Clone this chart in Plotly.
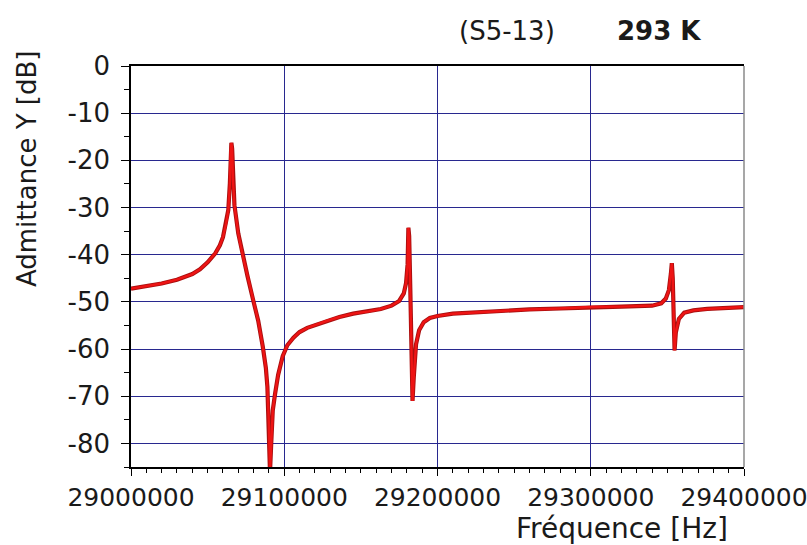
import plotly.graph_objects as go

freq_hz = [
    29000000, 29010000, 29020000, 29030000, 29040000, 29045000, 29050000, 29055000,
    29058000, 29060000, 29062000, 29063500, 29064500, 29065000, 29065500, 29066000,
    29066500, 29067500, 29070000, 29073000, 29076000, 29080000, 29083000, 29086000,
    29088000, 29089000, 29090000, 29090700, 29091500, 29092500, 29094000, 29096000,
    29099000, 29102000, 29106000, 29110000, 29115000, 29120000, 29128000, 29136000,
    29145000, 29155000, 29163000, 29170000, 29175000, 29178000, 29179500, 29180500,
    29181000, 29181500, 29182300, 29183000, 29183700, 29184500, 29186000, 29188000,
    29191000, 29195000, 29200000, 29210000, 29220000, 29240000, 29260000, 29280000,
    29300000, 29320000, 29340000, 29346000, 29349000, 29351000, 29352300, 29352900,
    29353500, 29354000, 29354700, 29355500, 29357500, 29361000, 29367000, 29376000,
    29390000, 29400000,
]
admittance_db = [
    -47.2, -46.7, -46.1, -45.3, -44.1, -43.1, -41.6, -39.7,
    -38.0, -36.3, -33.5, -30.5, -25.0, -18.0, -16.3, -17.5,
    -24.0, -29.5, -35.5, -40.3, -44.5, -50.0, -54.0, -59.5,
    -64.0, -68.0, -76.0, -86.0, -80.0, -73.0, -69.5, -65.5,
    -61.5, -59.2, -57.6, -56.4, -55.5, -54.9, -54.0, -53.2,
    -52.5, -52.0, -51.5, -50.8, -49.8, -48.2, -46.0, -42.0,
    -34.3, -36.0, -48.0, -60.0, -71.0, -66.0, -59.0, -56.0,
    -54.3, -53.4, -53.0, -52.5, -52.3, -51.9, -51.6, -51.4,
    -51.1, -51.0, -50.8, -50.3, -49.3, -47.5, -44.0, -41.8,
    -45.0, -52.0, -60.3, -56.5, -53.6, -52.3, -51.8, -51.5,
    -51.3, -51.1,
]

x_ticks = [29000000, 29100000, 29200000, 29300000, 29400000]
x_tick_labels = ["29000000", "29100000", "29200000", "29300000", "29400000"]
y_ticks = [0, -10, -20, -30, -40, -50, -60, -70, -80]
y_tick_labels = ["0", "-10", "-20", "-30", "-40", "-50", "-60", "-70", "-80"]

FONT = "DejaVu Sans"
GRID = "#28288f"

fig = go.Figure()
fig.add_trace(go.Scatter(x=freq_hz, y=admittance_db, mode="lines",
                         line=dict(color="#a80f0f", width=4.2), hoverinfo="skip",
                         showlegend=False))
fig.add_trace(go.Scatter(x=freq_hz, y=admittance_db, mode="lines",
                         line=dict(color="#ee1414", width=2.4),
                         showlegend=False))

fig.update_layout(
    width=807, height=545,
    margin=dict(l=131, r=63, t=66, b=78, autoexpand=False),
    paper_bgcolor="white", plot_bgcolor="white",
    font=dict(family=FONT, color="#1a1a1a"),
    xaxis=dict(
        range=[29000000, 29400000], tickvals=x_ticks, ticktext=x_tick_labels,
        showgrid=True, gridcolor=GRID, gridwidth=1,
        showline=True, linecolor="black", linewidth=1.5, mirror=True,
        ticks="outside", ticklen=7, tickcolor="black", tickwidth=1.2,
        tickfont=dict(size=25, family=FONT, color="#1a1a1a"),
        ticklabeloverflow="allow",
        minor=dict(dtick=10000, ticks="outside", ticklen=4, tickcolor="black", showgrid=False),
        zeroline=False, automargin=False,
    ),
    yaxis=dict(
        range=[-85, 0], tickvals=y_ticks, ticktext=y_tick_labels,
        showgrid=True, gridcolor=GRID, gridwidth=1,
        showline=True, linecolor="black", linewidth=1.5, mirror=False,
        ticks="outside", ticklen=8, tickcolor="black", tickwidth=1.2,
        tickfont=dict(size=26, family=FONT, color="#1a1a1a"),
        ticklabeloverflow="allow", ticklabelstandoff=6,
        minor=dict(dtick=5, ticks="outside", ticklen=5, tickcolor="black", showgrid=False),
        zeroline=False, automargin=False,
    ),
    shapes=[dict(type="line", xref="paper", yref="paper", x0=1, x1=1, y0=0, y1=1,
                 line=dict(color="#8a8a8a", width=1.5))],
    annotations=[
        dict(text="Admittance Y [dB]", textangle=-90, xref="paper", yref="paper",
             x=-0.17, y=0.745, xanchor="center", yanchor="middle", showarrow=False,
             font=dict(size=26, family=FONT, color="#1a1a1a")),
        dict(text="Fréquence [Hz]", xref="paper", yref="paper",
             x=0.977, y=-0.153, xanchor="right", yanchor="middle", showarrow=False,
             font=dict(size=28, family=FONT, color="#1a1a1a")),
        dict(text="(S5-13)", xref="paper", yref="paper",
             x=0.613, y=1.087, xanchor="center", yanchor="middle", showarrow=False,
             font=dict(size=26, family=FONT, color="#1a1a1a")),
        dict(text="<b>293 K</b>", xref="paper", yref="paper",
             x=0.861, y=1.087, xanchor="center", yanchor="middle", showarrow=False,
             font=dict(size=26, family=FONT, color="#1a1a1a")),
    ],
)

fig.write_html("out.html", post_script="document.body.style.margin='0';",
               config={"displayModeBar": False})
